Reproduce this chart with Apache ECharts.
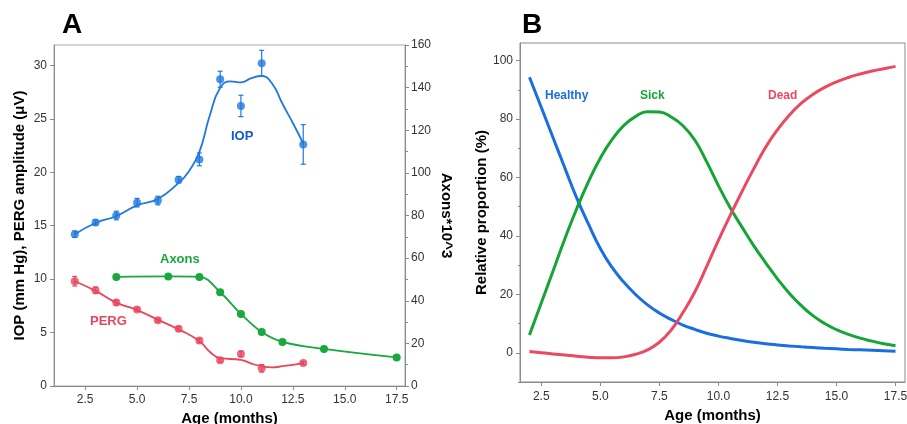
<!DOCTYPE html>
<html style="height: 100%">
<head>
<meta charset="utf-8">
<script src="https://cdn.jsdelivr.net/npm/echarts@6/dist/echarts.min.js"></script>
</head>
<body style="height: 100%; margin: 0; background: #fff">
<div id="container" style="width: 907px; height: 424px"></div>
<script type="text/javascript">
// ---- panel A data ----
var ageIOP = [2, 3, 4, 5, 6, 7, 8, 9, 10, 11, 13];
var iopMean = [14.2, 15.3, 15.95, 17.15, 17.35, 19.3, 21.2, 28.7, 26.2, 30.2, 22.6];
var iopErr = [0.3, 0.25, 0.4, 0.4, 0.4, 0.3, 0.6, 0.75, 1.0, 1.2, 1.85];
var iopFitAge = [2, 3, 4, 5, 6, 7, 7.5, 8, 8.5, 9, 9.5, 10, 10.5, 11, 11.5, 12, 12.5, 13];
var iopFit = [14.2, 15.25, 15.9, 16.9, 17.5, 19.0, 20.1, 21.9, 25.3, 27.9, 28.5, 28.4, 28.8, 29.0, 28.3, 26.4, 24.6, 22.7];

var agePERG = [2, 3, 4, 5, 6, 7, 8, 9, 10, 11, 13];
var pergMean = [9.8, 8.95, 7.8, 7.15, 6.15, 5.35, 4.25, 2.4, 3.0, 1.65, 2.15];
var pergErr = [0.45, 0.3, 0.25, 0.15, 0.15, 0.2, 0.2, 0.15, 0.25, 0.35, 0.15];
var pergFitAge = [2, 3, 4, 5, 6, 7, 8, 8.5, 9, 10, 10.5, 11, 11.5, 12, 13];
var pergFit = [9.8, 8.9, 7.8, 7.1, 6.2, 5.3, 4.2, 3.2, 2.6, 2.45, 2.1, 1.85, 1.75, 1.85, 2.15];

var ageAxons = [4, 6.5, 8, 9, 10, 11, 12, 14, 17.5];
var axons = [51.2, 51.4, 51.2, 44.0, 33.8, 25.3, 20.7, 17.4, 13.4];

var ticksAgeA = [2.5, 5, 7.5, 10, 12.5, 15, 17.5];
var ticksLeftA = [0, 5, 10, 15, 20, 25, 30];

// ---- panel B data ----
var ageB = [2, 2.5, 3, 3.5, 4, 4.5, 5, 5.5, 6, 6.5, 7, 7.5, 8, 8.5, 9, 9.5, 10, 10.5, 11, 11.5,
            12, 12.5, 13, 13.5, 14, 14.5, 15, 15.5, 16, 16.5, 17, 17.5];
var healthy = [94.3, 84, 73.6, 63.2, 53, 44, 35.7, 29.2, 24.1, 19.9, 16.4, 13.6, 11.4, 9.5, 8.0, 6.7, 5.7, 4.9, 4.2, 3.6,
               3.1, 2.7, 2.35, 2.05, 1.8, 1.55, 1.35, 1.15, 1.0, 0.85, 0.7, 0.55];
var sick = [6.1, 17, 28, 39, 49.3, 58.6, 66.6, 73, 77.8, 80.9, 82.5, 82.4, 80.7, 77.7, 72.8, 65.4, 57.2, 49.6, 43, 36.6,
            30.8, 25.3, 20.4, 16.2, 12.7, 10.0, 7.9, 6.3, 5.0, 4.0, 3.1, 2.4];
var dead = [0.4, 0, -0.4, -0.8, -1.2, -1.5, -1.7, -1.7, -1.4, -0.5, 1.0, 3.6, 7.8, 13.8, 20.8, 29.5, 38.5, 47, 55.2, 63,
            70.3, 76.3, 81.3, 85.3, 88.4, 90.8, 92.7, 94.2, 95.4, 96.4, 97.2, 98];
var ticksAgeB = [2.5, 5, 7.5, 10, 12.5, 15, 17.5];
var ticksPropMajor = [0, 20, 40, 60, 80, 100];
var ticksPropMinor = [-10, 10, 30, 50, 70, 90];

var BLUE = '#1f78e0', GREEN = '#18a83c', RED = '#e8465c';
var FONT = 'Liberation Sans, Arial, sans-serif';

function pairs(xs, ys) {
    return xs.map(function (x, i) { return [x, ys[i]]; });
}
function triples(xs, ys, es) {
    return xs.map(function (x, i) { return [x, ys[i], es[i]]; });
}

function errorBars(params, api) {
    var x = api.value(0), y = api.value(1), e = api.value(2);
    var hi = api.coord([x, y + e]);
    var lo = api.coord([x, y - e]);
    var c = api.visual('color');
    var w = 2.5;
    var st = { stroke: c, lineWidth: 1.2 };
    return {
        type: 'group',
        children: [
            { type: 'line', shape: { x1: hi[0], y1: hi[1], x2: lo[0], y2: lo[1] }, style: st },
            { type: 'line', shape: { x1: hi[0] - w, y1: hi[1], x2: hi[0] + w, y2: hi[1] }, style: st },
            { type: 'line', shape: { x1: lo[0] - w, y1: lo[1], x2: lo[0] + w, y2: lo[1] }, style: st }
        ]
    };
}

var axisGray = { onZero: false, lineStyle: { color: '#8a8a8a', width: 1 } };
var labelStyle = { color: '#333', fontSize: 12, fontFamily: FONT };
var nameStyle = { color: '#000', fontSize: 15, fontWeight: 'bold', fontFamily: FONT };
var fmt1 = function (v) { return v.toFixed(1); };

var dom = document.getElementById('container');
var myChart = echarts.init(dom, null, { renderer: 'canvas' });

var option = {
    backgroundColor: '#fff',
    animation: false,
    textStyle: { fontFamily: FONT },
    grid: [
        { left: 54, top: 45, right: 502, bottom: 38, show: true, borderColor: '#aaa', borderWidth: 1,
          outerBoundsMode: 'none' },
        { left: 520, top: 43, right: 2, bottom: 42, show: true, borderColor: '#8a8a8a', borderWidth: 1,
          outerBoundsMode: 'none' }
    ],
    xAxis: [
        {
            type: 'value', gridIndex: 0, min: 1, max: 17.9,
            name: 'Age (months)', nameLocation: 'middle', nameGap: 24, nameTextStyle: nameStyle,
            axisLine: axisGray, splitLine: { show: false },
            axisTick: { length: 4, lineStyle: { color: '#8a8a8a' }, customValues: ticksAgeA },
            axisLabel: Object.assign({ customValues: ticksAgeA, formatter: fmt1, margin: 8 }, labelStyle)
        },
        {
            type: 'value', gridIndex: 1, min: 1.6, max: 17.9,
            name: 'Age (months)', nameLocation: 'middle', nameGap: 24, nameTextStyle: nameStyle,
            axisLine: axisGray, splitLine: { show: false },
            axisTick: { length: 4, lineStyle: { color: '#8a8a8a' }, customValues: ticksAgeB },
            axisLabel: Object.assign({ customValues: ticksAgeB, formatter: fmt1, margin: 9 }, labelStyle)
        }
    ],
    yAxis: [
        {
            type: 'value', gridIndex: 0, min: 0, max: 31.9,
            name: 'IOP (mm Hg), PERG amplitude (μV)', nameLocation: 'middle', nameGap: 27,
            nameTextStyle: nameStyle,
            axisLine: { show: true, onZero: false, lineStyle: { color: '#8a8a8a' } }, splitLine: { show: false },
            axisTick: { show: true, length: 4, lineStyle: { color: '#8a8a8a' }, customValues: ticksLeftA },
            axisLabel: Object.assign({ customValues: ticksLeftA, margin: 7 }, labelStyle)
        },
        {
            type: 'value', gridIndex: 0, min: 0, max: 160, interval: 20, position: 'right',
            name: 'Axons*10^3', nameLocation: 'middle', nameGap: 34, nameRotate: -90,
            nameTextStyle: nameStyle,
            axisLine: { show: true, onZero: false, lineStyle: { color: '#8a8a8a' } }, splitLine: { show: false },
            axisTick: { show: true, length: 4, lineStyle: { color: '#8a8a8a' } },
            minorTick: { show: true, splitNumber: 2, length: 3, lineStyle: { color: '#8a8a8a' } },
            axisLabel: Object.assign({ margin: 6 }, labelStyle)
        },
        {
            type: 'value', gridIndex: 1, min: -10, max: 106, position: 'left',
            name: 'Relative proportion (%)', nameLocation: 'middle', nameGap: 30,
            nameTextStyle: nameStyle,
            axisLine: { show: true, onZero: false, lineStyle: { color: '#8a8a8a' } }, splitLine: { show: false },
            axisTick: { show: true, length: 4, lineStyle: { color: '#8a8a8a' }, customValues: ticksPropMajor },
            axisLabel: Object.assign({ customValues: ticksPropMajor, margin: 7 }, labelStyle)
        },
        {
            type: 'value', gridIndex: 1, min: -10, max: 106, position: 'left', offset: 0,
            axisLine: { show: false, onZero: false }, splitLine: { show: false },
            axisTick: { show: true, length: 2, lineStyle: { color: '#8a8a8a' }, customValues: ticksPropMinor },
            axisLabel: { show: false }
        }
    ],
    series: [
        // IOP
        { type: 'line', xAxisIndex: 0, yAxisIndex: 0, data: pairs(iopFitAge, iopFit), smooth: 0.5,
          showSymbol: false, lineStyle: { color: BLUE, width: 1.8 }, silent: true },
        { type: 'custom', xAxisIndex: 0, yAxisIndex: 0, data: triples(ageIOP, iopMean, iopErr),
          renderItem: errorBars, encode: { x: 0, y: 1 }, itemStyle: { color: BLUE }, silent: true },
        { type: 'scatter', xAxisIndex: 0, yAxisIndex: 0, data: pairs(ageIOP, iopMean), symbolSize: 8,
          itemStyle: { color: BLUE }, silent: true },
        // PERG
        { type: 'line', xAxisIndex: 0, yAxisIndex: 0, data: pairs(pergFitAge, pergFit), smooth: 0.5,
          showSymbol: false, lineStyle: { color: RED, width: 1.8 }, silent: true },
        { type: 'custom', xAxisIndex: 0, yAxisIndex: 0, data: triples(agePERG, pergMean, pergErr),
          renderItem: errorBars, encode: { x: 0, y: 1 }, itemStyle: { color: RED }, silent: true },
        { type: 'scatter', xAxisIndex: 0, yAxisIndex: 0, data: pairs(agePERG, pergMean), symbolSize: 8,
          itemStyle: { color: RED }, silent: true },
        // Axons
        { type: 'line', xAxisIndex: 0, yAxisIndex: 1, data: pairs(ageAxons, axons), smooth: 0.4,
          symbol: 'circle', symbolSize: 8, lineStyle: { color: GREEN, width: 1.8 },
          itemStyle: { color: GREEN }, silent: true },
        // panel B
        { type: 'line', xAxisIndex: 1, yAxisIndex: 2, data: pairs(ageB, healthy), smooth: true,
          showSymbol: false, lineStyle: { color: '#1a6fe0', width: 3 }, silent: true },
        { type: 'line', xAxisIndex: 1, yAxisIndex: 2, data: pairs(ageB, sick), smooth: true,
          showSymbol: false, lineStyle: { color: '#15a537', width: 3 }, silent: true },
        { type: 'line', xAxisIndex: 1, yAxisIndex: 2, data: pairs(ageB, dead), smooth: true,
          showSymbol: false, lineStyle: { color: '#ea4a60', width: 3 }, silent: true }
    ],
    graphic: [
        { type: 'text', left: 62, top: 11, style: { text: 'A', fontSize: 28, fontWeight: 'bold', fill: '#000', fontFamily: FONT } },
        { type: 'text', left: 522, top: 11, style: { text: 'B', fontSize: 28, fontWeight: 'bold', fill: '#000', fontFamily: FONT } },
        { type: 'text', left: 231, top: 130, style: { text: 'IOP', fontSize: 13, fontWeight: 'bold', fill: '#1558d0', fontFamily: FONT } },
        { type: 'text', left: 160, top: 253, style: { text: 'Axons', fontSize: 13, fontWeight: 'bold', fill: GREEN, fontFamily: FONT } },
        { type: 'text', left: 90, top: 315, style: { text: 'PERG', fontSize: 13, fontWeight: 'bold', fill: RED, fontFamily: FONT } },
        { type: 'text', left: 545, top: 90, style: { text: 'Healthy', fontSize: 12, fontWeight: 'bold', fill: '#1a6fe0', fontFamily: FONT } },
        { type: 'text', left: 640, top: 90, style: { text: 'Sick', fontSize: 12, fontWeight: 'bold', fill: '#15a537', fontFamily: FONT } },
        { type: 'text', left: 768, top: 90, style: { text: 'Dead', fontSize: 12, fontWeight: 'bold', fill: '#ea4a60', fontFamily: FONT } }
    ]
};

myChart.setOption(option);
</script>
</body>
</html>
